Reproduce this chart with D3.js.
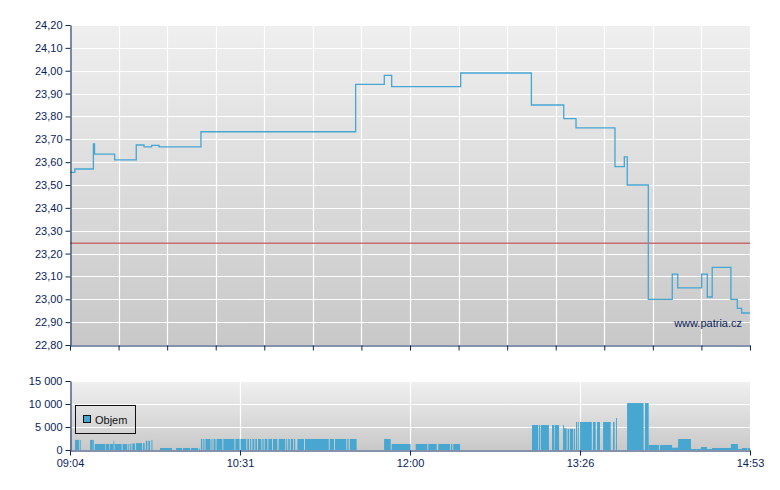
<!DOCTYPE html>
<html>
<head>
<meta charset="utf-8">
<script src="https://cdn.jsdelivr.net/npm/d3@7"></script>
<style>
  html, body { margin: 0; padding: 0; background: #ffffff; }
  svg { display: block; }
  text { font-family: "Liberation Sans", Arial, sans-serif; }
</style>
</head>
<body>
<svg id="chart" width="780" height="490"></svg>
<script>
// ---- DATA (time = minutes after 09:04) ----
const sessionMinutes = [0, 349];
const xTickLabels = ["09:04", "10:31", "12:00", "13:26", "14:53"];
const priceTicks = [22.8, 22.9, 23.0, 23.1, 23.2, 23.3, 23.4, 23.5, 23.6, 23.7, 23.8, 23.9, 24.0, 24.1, 24.2];
const volumeTicks = [0, 5000, 10000, 15000];
const previousClose = 23.245;

const priceTimes = [0, 2.5, 12.0, 12.6, 22.9, 34.0, 38.0, 41.9, 45.7, 67.2, 146.6, 161.3, 165.1, 200.5,
  236.8, 253.4, 259.7, 279.7, 284.5, 286.0, 296.8, 309.1, 311.9, 324.2, 327.1, 329.6, 339.2, 342.5, 344.7, 349];
const priceValues = [23.555, 23.57, 23.68, 23.635, 23.61, 23.675, 23.667, 23.673, 23.667, 23.733, 23.94, 23.98, 23.93, 23.99,
  23.85, 23.79, 23.75, 23.58, 23.623, 23.50, 23.00, 23.11, 23.05, 23.11, 23.01, 23.14, 23.00, 22.96, 22.94, 22.94];

// volume bars: start minute, end minute, volume
const volStart = [2.6, 5.0, 10.3, 11.4, 12.7, 18.3, 20.5, 22.3, 22.9, 27.0, 29.9, 30.9, 32.0, 33.9, 37.5, 38.9, 40.2, 41.8,
  46.2, 54.4, 58.0, 62.1, 66.2,
  67.2, 68.4, 69.5, 72.6, 73.7, 75.2, 78.7, 84.9, 87.5, 91.0, 92.4, 93.6, 95.1, 96.5, 98.7, 99.9, 101.8, 104.2, 107.1,
  111.0, 112.0, 113.3, 115.0, 116.7, 120.6, 133.3, 136.0, 142.3, 143.6,
  161.2, 165.1, 177.4, 183.9, 189.0, 195.5, 196.7,
  237.1, 240.6, 241.6, 247.4, 248.9, 253.0, 253.5, 255.4, 256.5, 258.7, 259.7, 260.6, 261.8, 268.4, 270.5, 273.6, 278.7, 280.2,
  285.9, 295.1, 297.0, 302.8, 309.0, 312.1, 318.7, 321.8, 323.9, 326.9, 329.5, 339.2, 342.8, 344.8, 347.8];
const volEnd = [4.6, 5.5, 11.3, 12.2, 18.0, 20.2, 22.2, 22.7, 26.5, 29.4, 30.4, 31.5, 33.4, 37.0, 38.3, 39.7, 41.1, 42.3,
  52.4, 57.5, 61.6, 65.7, 66.7,
  67.9, 69.0, 72.1, 73.1, 74.7, 78.2, 84.4, 87.0, 90.5, 91.9, 93.0, 94.6, 96.0, 98.2, 99.4, 101.3, 103.7, 106.4, 110.5,
  111.5, 112.8, 114.5, 115.6, 120.1, 132.8, 135.5, 141.8, 143.0, 147.1,
  164.6, 174.8, 183.4, 188.2, 195.0, 196.2, 200.2,
  240.2, 241.2, 245.8, 248.6, 251.0, 253.5, 254.9, 256.1, 258.3, 259.2, 260.2, 261.1, 267.8, 269.8, 272.0, 277.5, 279.5, 280.7,
  294.4, 297.0, 302.3, 309.0, 312.1, 318.7, 321.6, 323.9, 326.9, 329.5, 339.2, 342.8, 344.8, 347.5, 349.0];
const volValue = [2200, 2200, 2200, 2200, 1300, 1300, 1300, 2000, 1300, 1300, 1300, 1400, 1400, 1500, 1500, 2000, 2000, 2200,
  430, 430, 430, 430, 300,
  2400, 2400, 2400, 2400, 2400, 2400, 2400, 2400, 2400, 2400, 2400, 2400, 2400, 2400, 2400, 2400, 2400, 2400, 2400,
  2400, 2400, 2400, 2400, 2400, 2400, 2400, 2400, 2400, 2400,
  2400, 1300, 1300, 1300, 1300, 1300, 1300,
  5430, 5430, 5430, 5430, 5430, 5430, 4700, 4570, 4570, 4570, 6090, 6090, 6090, 6090, 6090, 6090, 6090, 6960,
  10200, 10200, 1090, 1090, 500, 2390, 220, 220, 650, 220, 430, 1300, 220, 430, 430];

// ---- LAYOUT ----
const svg = d3.select("#chart");
const left = 70, right = 750;
const mainTop = 25, mainBottom = 345;
const volTop = 381, volBottom = 450;
const axisColor = "#0b2458";
const lineColor = "#45a6d2";
const barColor = "#47a7d0";

const locale = d3.formatLocale({decimal: ",", thousands: "\u00a0", grouping: [3], currency: ["", ""]});
const fmtPrice = locale.format(".2f");
const fmtVol = locale.format(",d");

const x = d3.scaleLinear().domain(sessionMinutes).range([left, right]);
const yP = d3.scaleLinear().domain([22.8, 24.2]).range([mainBottom, mainTop]);
const yV = d3.scaleLinear().domain([0, 15000]).range([volBottom, volTop]);

const defs = svg.append("defs");
function grad(id, c1, c2) {
  const g = defs.append("linearGradient").attr("id", id).attr("x1", 0).attr("y1", 0).attr("x2", 0).attr("y2", 1);
  g.append("stop").attr("offset", "0%").attr("stop-color", c1);
  g.append("stop").attr("offset", "100%").attr("stop-color", c2);
}
grad("gMain", "#efefef", "#c8c8c8");
grad("gVol", "#f0f0f0", "#c9c9c9");

// backgrounds
svg.append("rect").attr("x", left).attr("y", mainTop).attr("width", right - left).attr("height", mainBottom - mainTop)
  .attr("fill", "url(#gMain)");
svg.append("rect").attr("x", left).attr("y", volTop).attr("width", right - left).attr("height", volBottom - volTop)
  .attr("fill", "url(#gVol)");

// main grid
const mainXGrid = d3.range(15).map(i => sessionMinutes[0] + i * (sessionMinutes[1] - sessionMinutes[0]) / 14);
const labelTicks = xTickLabels.map((d, i) => sessionMinutes[0] + i * (sessionMinutes[1] - sessionMinutes[0]) / 4);

const gMainGrid = svg.append("g").attr("stroke", "#ffffff").attr("stroke-width", 1.2);
gMainGrid.selectAll("line.h").data(priceTicks).join("line")
  .attr("x1", left).attr("x2", right)
  .attr("y1", d => Math.round(yP(d)) + 0.5).attr("y2", d => Math.round(yP(d)) + 0.5);
gMainGrid.selectAll("line.v").data(mainXGrid.slice(1)).join("line")
  .attr("x1", d => Math.round(x(d)) + 0.5).attr("x2", d => Math.round(x(d)) + 0.5)
  .attr("y1", mainTop).attr("y2", mainBottom);

// volume grid
const gVolGrid = svg.append("g").attr("stroke", "#ffffff").attr("stroke-width", 1.2);
gVolGrid.selectAll("line.h").data(volumeTicks.slice(1)).join("line")
  .attr("x1", left).attr("x2", right)
  .attr("y1", d => Math.round(yV(d)) + 0.5).attr("y2", d => Math.round(yV(d)) + 0.5);
gVolGrid.selectAll("line.v").data(labelTicks.slice(1, 4)).join("line")
  .attr("x1", d => Math.round(x(d)) + 0.5).attr("x2", d => Math.round(x(d)) + 0.5)
  .attr("y1", volTop).attr("y2", volBottom);

// previous close line
svg.append("line")
  .attr("x1", left).attr("x2", right)
  .attr("y1", yP(previousClose)).attr("y2", yP(previousClose))
  .attr("stroke", "#c84040").attr("stroke-opacity", 0.7).attr("stroke-width", 1.5);

// price line
const priceData = priceTimes.map((t, i) => ({t, v: priceValues[i]}));
svg.append("path").datum(priceData)
  .attr("fill", "none").attr("stroke", lineColor).attr("stroke-width", 1.3)
  .attr("d", d3.line().x(d => x(d.t)).y(d => yP(d.v)).curve(d3.curveStepAfter));

// volume bars
const volData = volStart.map((s, i) => ({s, e: volEnd[i], v: volValue[i]}));
svg.append("g").selectAll("rect").data(volData).join("rect")
  .attr("x", d => x(d.s)).attr("width", d => Math.max(0.8, x(d.e) - x(d.s)))
  .attr("y", d => yV(d.v)).attr("height", d => yV(0) - yV(d.v))
  .attr("fill", barColor);

// axes
function styleAxis(g) {
  g.selectAll("path, line").attr("stroke", axisColor);
  g.selectAll("text").attr("fill", axisColor).attr("font-size", 11)
    .attr("font-family", "'Liberation Sans', Arial, sans-serif");
}
svg.append("g").attr("transform", `translate(${left + 0.5},0)`)
  .call(d3.axisLeft(yP).tickValues(priceTicks).tickFormat(fmtPrice).tickSize(5).tickPadding(3).tickSizeOuter(0))
  .call(styleAxis);
svg.append("g").attr("transform", `translate(0,${mainBottom + 0.5})`)
  .call(d3.axisBottom(x).tickValues(mainXGrid).tickFormat("").tickSize(5).tickSizeOuter(0))
  .call(styleAxis);

svg.append("g").attr("transform", `translate(${left + 0.5},0)`)
  .call(d3.axisLeft(yV).tickValues(volumeTicks).tickFormat(fmtVol).tickSize(5).tickPadding(3).tickSizeOuter(0))
  .call(styleAxis);
svg.append("g").attr("transform", `translate(0,${volBottom + 0.5})`)
  .call(d3.axisBottom(x).tickValues(labelTicks).tickFormat((d, i) => xTickLabels[i]).tickSize(5).tickPadding(4).tickSizeOuter(0))
  .call(styleAxis);

// watermark
svg.append("text").attr("x", 742).attr("y", 327).attr("text-anchor", "end")
  .attr("font-size", 11).attr("fill", axisColor).text("www.patria.cz");

// legend
const lg = svg.append("g");
lg.append("rect").attr("x", 75.5).attr("y", 405.5).attr("width", 60).attr("height", 28)
  .attr("fill", "none").attr("stroke", "#111").attr("stroke-width", 1);
lg.append("rect").attr("x", 83.5).attr("y", 415.5).attr("width", 7).attr("height", 7)
  .attr("fill", barColor).attr("stroke", "#111").attr("stroke-width", 1);
lg.append("text").attr("x", 95).attr("y", 423.5).attr("font-size", 11).attr("fill", "#111").text("Objem");
</script>
</body>
</html>
